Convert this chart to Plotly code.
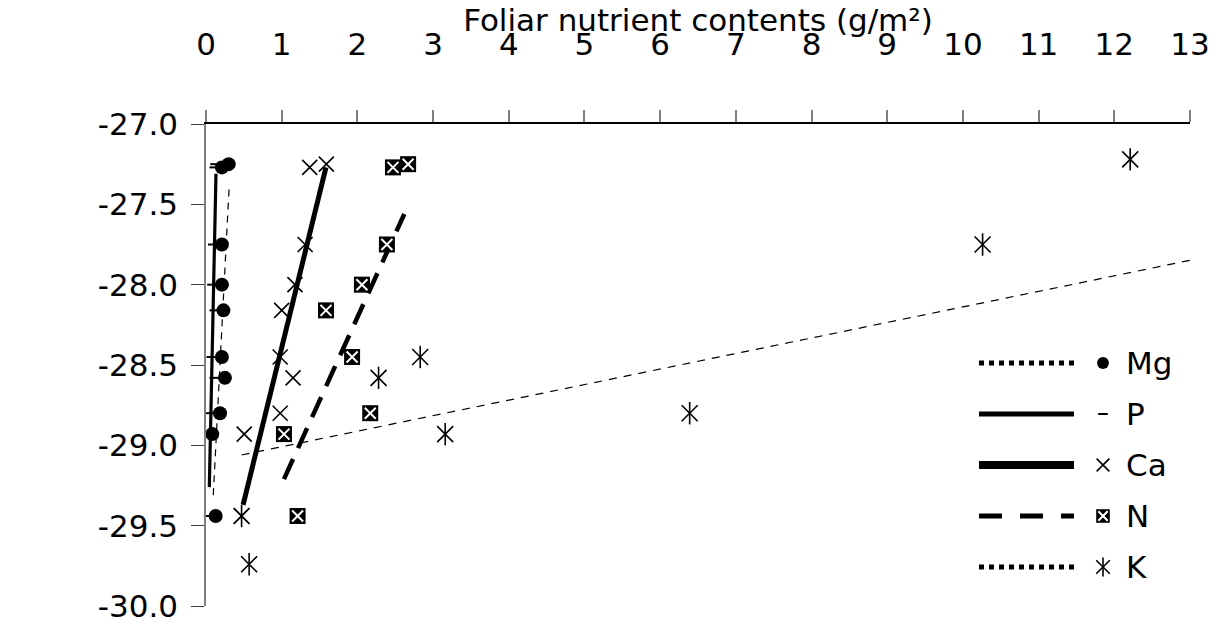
import plotly.graph_objects as go

# ---- data ----
nutrients = ["Mg", "P", "Ca", "N", "K"]

mg_x = [0.30, 0.21, 0.21, 0.21, 0.23, 0.21, 0.25, 0.185, 0.083, 0.128]
mg_y = [-27.25, -27.27, -27.75, -28.0, -28.16, -28.45, -28.58, -28.80, -28.93, -29.44]

p_x = [0.13, 0.12, 0.10, 0.09, 0.12, 0.08, 0.12, 0.07, 0.06, 0.045]
p_y = [-27.25, -27.27, -27.75, -28.0, -28.16, -28.45, -28.58, -28.80, -28.93, -29.44]

ca_x = [1.59, 1.37, 1.31, 1.175, 1.0, 0.98, 1.15, 0.98, 0.505, 0.47]
ca_y = [-27.25, -27.27, -27.75, -28.0, -28.16, -28.45, -28.58, -28.80, -28.93, -29.44]

n_x = [2.67, 2.47, 2.39, 2.06, 1.585, 1.93, 2.17, 1.03, 1.21]
n_y = [-27.25, -27.27, -27.75, -28.0, -28.16, -28.45, -28.80, -28.93, -29.44]

k_x = [12.21, 10.26, 2.83, 2.28, 6.39, 3.16, 0.47, 0.57]
k_y = [-27.22, -27.75, -28.45, -28.58, -28.80, -28.93, -29.44, -29.74]

# linear trend lines (end points as drawn in the reference)
mg_fit_x = [0.096, 0.308]
mg_fit_y = [-29.31, -27.37]
p_fit_x = [0.044, 0.132]
p_fit_y = [-29.26, -27.31]
ca_fit_x = [0.49, 1.585]
ca_fit_y = [-29.37, -27.27]
n_fit_x = [1.03, 2.62]
n_fit_y = [-29.21, -27.56]
k_fit_x = [0.47, 13.5]
k_fit_y = [-29.06, -27.80]

x_ticks = list(range(0, 14))
y_ticks = [-27.0, -27.5, -28.0, -28.5, -29.0, -29.5, -30.0]
y_tick_labels = ["-27.0", "-27.5", "-28.0", "-28.5", "-29.0", "-29.5", "-30.0"]

points = {"Mg": (mg_x, mg_y), "P": (p_x, p_y), "Ca": (ca_x, ca_y),
          "N": (n_x, n_y), "K": (k_x, k_y)}
fits = {"Mg": (mg_fit_x, mg_fit_y), "P": (p_fit_x, p_fit_y), "Ca": (ca_fit_x, ca_fit_y),
        "N": (n_fit_x, n_fit_y), "K": (k_fit_x, k_fit_y)}

# ---- styles ----
FONT = "DejaVu Sans"
FS = 31

line_style = {
    "Mg": dict(width=1.2, dash="7px,6px"),
    "P": dict(width=3.2, dash="solid"),
    "Ca": dict(width=5, dash="solid"),
    "N": dict(width=4.5, dash="22px,12px"),
    "K": dict(width=1.2, dash="8px,7px"),
}
legend_line_style = {
    "Mg": dict(width=5, dash="5px,5px"),
    "P": dict(width=5, dash="solid"),
    "Ca": dict(width=8, dash="solid"),
    "N": dict(width=5, dash="23px,18px"),
    "K": dict(width=5, dash="5px,5px"),
}
marker_layers = {
    "Mg": [dict(symbol="circle", size=14, color="black", line=dict(width=0))],
    "P": [dict(symbol="line-ew", size=8, line=dict(width=2, color="black"))],
    "Ca": [dict(symbol="x-thin", size=15, line=dict(width=1.6, color="black"))],
    "N": [dict(symbol="square", size=16, color="black", line=dict(width=0)),
          dict(symbol="x-thin", size=11, line=dict(width=2, color="white"))],
    "K": [dict(symbol="x-thin", size=16, line=dict(width=1.6, color="black")),
          dict(symbol="line-ns", size=16, line=dict(width=1.6, color="black"))],
}

fig = go.Figure()


def add_markers(x, y, key, xa="x", ya="y", scale=1.0):
    for layer in marker_layers[key]:
        m = dict(layer)
        m["size"] = m["size"] * scale
        fig.add_trace(go.Scatter(x=x, y=y, mode="markers", marker=m,
                                 xaxis=xa, yaxis=ya, showlegend=False,
                                 hoverinfo="skip", cliponaxis=False))


# trend lines
for key in nutrients:
    fx, fy = fits[key]
    fig.add_trace(go.Scatter(x=fx, y=fy, mode="lines",
                             line=dict(color="black", **line_style[key]),
                             showlegend=False, hoverinfo="skip"))

# points
for key in nutrients:
    add_markers(*points[key], key)

# hand-drawn legend on an overlay axis measured in screen pixels
leg_rows = [363, 414, 465, 516, 567]
for key, ry in zip(nutrients, leg_rows):
    fig.add_trace(go.Scatter(x=[979, 1074], y=[ry, ry], mode="lines", xaxis="x2", yaxis="y2",
                             line=dict(color="black", **legend_line_style[key]),
                             showlegend=False, hoverinfo="skip"))
    add_markers([1103], [ry], key, xa="x2", ya="y2", scale=0.85)
    fig.add_annotation(x=1124, y=ry, xref="x2", yref="y2", text=key, showarrow=False,
                       xanchor="left", yanchor="middle",
                       font=dict(family=FONT, size=FS, color="black"))

# the page body adds an offset, so the figure is sized to the visible window
OFF = 8
W, H = 1228 - OFF, 624 - OFF
PL, PR, PT, PB = 206, 1190, 124, 606   # plot box in screen pixels
ML, MR, MT, MB = PL - OFF, W - (PR - OFF), PT - OFF, H - (PB - OFF)

fig.update_layout(
    width=W, height=H,
    margin=dict(l=ML, r=MR, t=MT, b=MB, autoexpand=False),
    paper_bgcolor="white", plot_bgcolor="white",
    font=dict(family=FONT, size=FS, color="black"),
    title=dict(text="Foliar nutrient contents (g/m²)",
               x=0.5, xref="paper",
               y=1 - (20 - OFF) / H, yref="container", xanchor="center", yanchor="middle",
               font=dict(family=FONT, size=FS, color="black")),
    xaxis=dict(range=[0, 13], side="top", tickvals=x_ticks, ticks="outside", ticklen=12,
               tickcolor="#808080", tickwidth=1.5, showline=True, linecolor="black",
               linewidth=1.5, showgrid=False, zeroline=False, ticklabelstandoff=43,
               automargin=False, tickfont=dict(family=FONT, size=FS)),
    yaxis=dict(range=[-30, -27], tickvals=y_ticks, ticktext=y_tick_labels, ticks="outside",
               ticklen=13, tickcolor="#404040", tickwidth=1.3, showline=True,
               linecolor="#808080", linewidth=1.5, showgrid=False, zeroline=False,
               ticklabelstandoff=7, automargin=False, tickfont=dict(family=FONT, size=FS)),
    xaxis2=dict(range=[PL, PR], overlaying="x", visible=False),
    yaxis2=dict(range=[PB, PT], overlaying="y", visible=False),
)

fig.add_annotation(text="Stemwood δ <sup>13</sup>C", xref="x2", yref="y2", x=34, y=443,
                   textangle=-90, showarrow=False, xanchor="center", yanchor="middle",
                   font=dict(family=FONT, size=FS, color="black"))

fig.write_html("out.html")
